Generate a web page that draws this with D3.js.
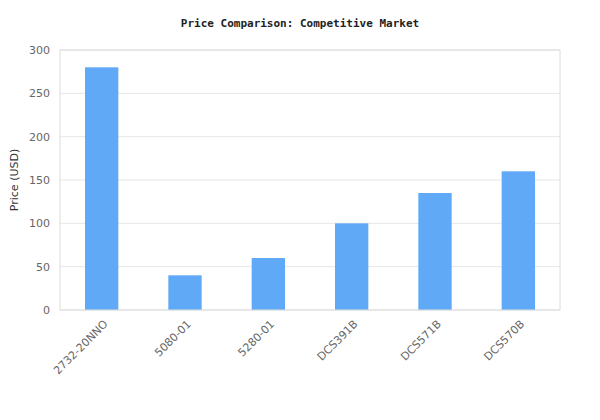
<!DOCTYPE html>
<html><head><meta charset="utf-8">
<script src="https://cdn.jsdelivr.net/npm/d3@7"></script>
<style>body{margin:0;background:#fff}</style>
</head><body><svg id="chart" width="600" height="420"></svg>
<script>
var categories = ['2732-20NNO', '5080-01', '5280-01', 'DCS391B', 'DCS571B', 'DCS570B'];
var prices = [280, 40, 60, 100, 135, 160];
var yTicks = [0, 50, 100, 150, 200, 250, 300];

var margin = { top: 50, right: 40, bottom: 110, left: 60 };
var width = 600 - margin.left - margin.right;
var height = 420 - margin.top - margin.bottom;

var svg = d3.select('#chart');
var g = svg.append('g').attr('transform', 'translate(' + margin.left + ',' + margin.top + ')');

var x = d3.scaleBand().domain(categories).range([0, width]).paddingInner(0.6).paddingOuter(0.3);
var y = d3.scaleLinear().domain([0, 300]).range([height, 0]);

// grid
g.selectAll('line.grid').data(yTicks).enter().append('line')
    .attr('x1', 0).attr('x2', width)
    .attr('y1', function (d) { return y(d); }).attr('y2', function (d) { return y(d); })
    .attr('stroke', '#e6e6e6');

// bars
g.selectAll('rect.bar').data(prices).enter().append('rect')
    .attr('x', function (d, i) { return x(categories[i]); })
    .attr('y', function (d) { return y(d); })
    .attr('width', x.bandwidth())
    .attr('height', function (d) { return height - y(d); })
    .attr('fill', '#60a9f6');

// frame
g.append('rect').attr('width', width).attr('height', height)
    .attr('fill', 'none').attr('stroke', '#dcdcdc');

// y axis labels
g.selectAll('text.ytick').data(yTicks).enter().append('text')
    .attr('x', -10).attr('y', function (d) { return y(d); }).attr('dy', '0.35em')
    .attr('text-anchor', 'end')
    .style('font', '11px "DejaVu Sans"').attr('fill', '#666')
    .text(function (d) { return d; });

// x axis labels
g.selectAll('text.xtick').data(categories).enter().append('text')
    .attr('transform', function (d) {
        return 'translate(' + (x(d) + x.bandwidth() / 2 + 4) + ',' + (height + 12) + ') rotate(-45)';
    })
    .attr('text-anchor', 'end').attr('dy', '0.35em')
    .style('font', '11px "DejaVu Sans"').attr('fill', '#666')
    .text(function (d) { return d; });

// y axis title
svg.append('text')
    .attr('transform', 'translate(14,' + (margin.top + height / 2) + ') rotate(-90)')
    .attr('text-anchor', 'middle').attr('dy', '0.35em')
    .style('font', '11px "DejaVu Sans"').attr('fill', '#333')
    .text('Price (USD)');

// title
svg.append('text')
    .attr('x', 300).attr('y', 27).attr('text-anchor', 'middle')
    .style('font', 'bold 11px "DejaVu Sans Mono"').attr('fill', '#222')
    .text('Price Comparison: Competitive Market');
</script></body></html>
